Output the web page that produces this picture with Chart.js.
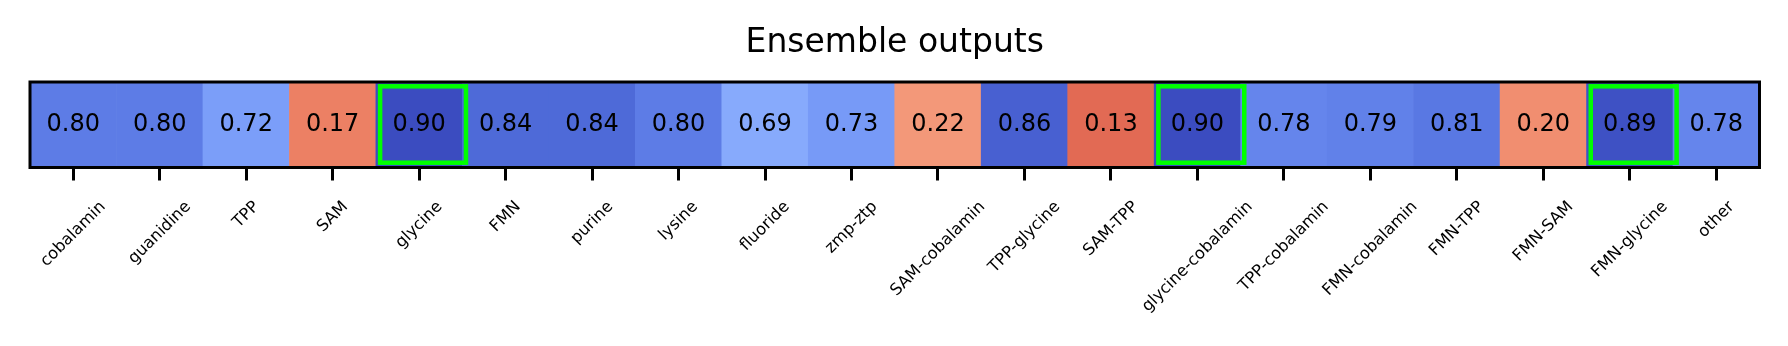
<!DOCTYPE html>
<html>
<head>
<meta charset="utf-8">
<script src="https://cdn.jsdelivr.net/npm/chart.js@4.4.1/dist/chart.umd.min.js"></script>
<style>
  html, body { margin: 0; padding: 0; background: #ffffff; }
  #wrap { width: 1788px; height: 346px; }
</style>
</head>
<body>
<div id="wrap"><canvas id="c" width="1788" height="346"></canvas></div>
<script>
// ---- data ----
const categories = ['cobalamin', 'guanidine', 'TPP', 'SAM', 'glycine', 'FMN', 'purine', 'lysine',
  'fluoride', 'zmp-ztp', 'SAM-cobalamin', 'TPP-glycine', 'SAM-TPP', 'glycine-cobalamin',
  'TPP-cobalamin', 'FMN-cobalamin', 'FMN-TPP', 'FMN-SAM', 'FMN-glycine', 'other'];
const scores = [0.80, 0.80, 0.72, 0.17, 0.90, 0.84, 0.84, 0.80, 0.69, 0.73, 0.22, 0.86, 0.13,
  0.90, 0.78, 0.79, 0.81, 0.20, 0.89, 0.78];
const highlighted = ['glycine', 'glycine-cobalamin', 'FMN-glycine'];
const colorMin = 0.0;
const colorMax = 0.9;
const titleText = 'Ensemble outputs';

// ---- coolwarm colormap (reversed use) ----
const coolwarmStops = [
  [59,76,192],[68,90,204],[77,104,215],[87,117,225],[98,130,234],[108,142,241],[119,154,247],
  [130,165,251],[141,176,254],[152,185,255],[163,194,255],[174,201,253],[184,208,249],
  [194,213,244],[204,217,238],[213,219,230],[221,221,221],[229,216,209],[236,211,197],
  [241,204,185],[245,196,173],[247,187,160],[247,177,148],[247,166,135],[244,154,123],
  [241,141,111],[236,127,99],[229,112,88],[222,96,77],[213,80,66],[203,62,56],[192,40,47],[180,4,38]
];
function cellColor(v) {
  let t = 1 - (v - colorMin) / (colorMax - colorMin);
  t = Math.max(0, Math.min(1, t));
  const p = t * (coolwarmStops.length - 1);
  const i = Math.min(Math.floor(p), coolwarmStops.length - 2);
  const f = p - i;
  const a = coolwarmStops[i], b = coolwarmStops[i + 1];
  const c = [0, 1, 2].map(k => Math.round(a[k] + (b[k] - a[k]) * f));
  return `rgb(${c[0]},${c[1]},${c[2]})`;
}

const rowSpan = [0, 1];

const overlay = {
  id: 'overlay',
  afterDatasetsDraw(chart) {
    const ctx = chart.ctx;
    const area = chart.chartArea;
    const meta = chart.getDatasetMeta(0);
    ctx.save();
    // value annotations
    ctx.font = '24px "DejaVu Sans"';
    ctx.fillStyle = '#000000';
    ctx.textAlign = 'center';
    ctx.textBaseline = 'alphabetic';
    const yMid = (area.top + area.bottom) / 2;
    meta.data.forEach((bar, i) => {
      ctx.fillText(scores[i].toFixed(2), bar.x, yMid + 6.3);
    });
    // highlight boxes
    ctx.strokeStyle = '#00ff00';
    ctx.lineWidth = 4.5;
    meta.data.forEach((bar, i) => {
      if (highlighted.includes(categories[i])) {
        const w = bar.width;
        const l = bar.x - w / 2 + 4.2;
        const r = bar.x + w / 2 + 3.6;
        ctx.strokeRect(l, area.top + 4.3, r - l, area.bottom - area.top - 9.1);
      }
    });
    // frame
    ctx.strokeStyle = '#000000';
    ctx.lineWidth = 3;
    ctx.strokeRect(area.left, area.top, area.right - area.left, area.bottom - area.top);
    ctx.restore();
  },
  afterDraw(chart) {
    const ctx = chart.ctx;
    const xs = chart.scales.x;
    const area = chart.chartArea;
    const fs = 16.3;
    const asc = 0.76 * fs, desc = 0.236 * fs, c = Math.SQRT1_2;
    const yTop = area.bottom + 31;
    ctx.save();
    ctx.font = fs + 'px "DejaVu Sans"';
    ctx.fillStyle = '#000000';
    ctx.textAlign = 'left';
    ctx.textBaseline = 'alphabetic';
    categories.forEach((lab, i) => {
      const L = ctx.measureText(lab).width;
      const tx = xs.getPixelForValue(i);
      const ox = tx - c * (L + desc - asc) / 2;
      const oy = yTop + c * (L + asc);
      ctx.save();
      ctx.translate(ox, oy);
      ctx.rotate(-Math.PI / 4);
      ctx.fillText(lab, 0, 0);
      ctx.restore();
    });
    ctx.restore();
  }
};

Chart.defaults.font.family = '"DejaVu Sans"';
Chart.defaults.color = '#000000';

new Chart(document.getElementById('c'), {
  type: 'bar',
  data: {
    labels: categories,
    datasets: [{
      data: scores.map(() => rowSpan),
      backgroundColor: scores.map(cellColor),
      borderWidth: 0,
      barPercentage: 1.0,
      categoryPercentage: 1.0
    }]
  },
  options: {
    responsive: false,
    animation: false,
    devicePixelRatio: 1,
    layout: { padding: { left: 30, right: 28.5, top: 0, bottom: 165.5 } },
    plugins: {
      legend: { display: false },
      tooltip: { enabled: false },
      title: {
        display: true,
        text: titleText,
        color: '#000000',
        font: { family: '"DejaVu Sans"', size: 33, weight: 'normal' },
        padding: { top: 24, bottom: 18.4 }
      }
    },
    scales: {
      x: {
        type: 'category',
        offset: true,
        grid: {
          display: true,
          offset: false,
          drawOnChartArea: false,
          drawTicks: true,
          tickLength: 13,
          tickWidth: 3,
          tickColor: '#000000'
        },
        border: { display: true, color: '#000000', width: 3 },
        ticks: { display: false }
      },
      y: {
        display: false,
        min: 0,
        max: 1
      }
    }
  },
  plugins: [overlay]
});
</script>
</body>
</html>
